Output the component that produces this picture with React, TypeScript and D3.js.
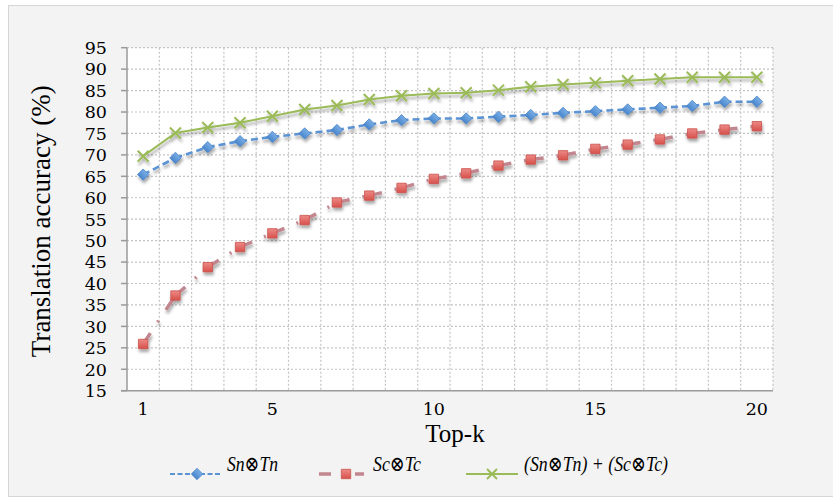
import React from 'react'
import * as d3 from 'd3'

const topK = [1, 2, 3, 4, 5, 6, 7, 8, 9, 10, 11, 12, 13, 14, 15, 16, 17, 18, 19, 20]
const snTn = [65.4, 69.3, 71.8, 73.2, 74.2, 75.0, 75.8, 77.1, 78.1, 78.5, 78.5, 78.9, 79.3, 79.8, 80.2, 80.6, 81.0, 81.4, 82.4, 82.4]
const scTc = [25.9, 37.2, 43.8, 48.5, 51.7, 54.8, 58.9, 60.5, 62.3, 64.4, 65.7, 67.5, 68.9, 69.9, 71.4, 72.4, 73.6, 75.0, 75.9, 76.7]
const combined = [69.7, 75.1, 76.4, 77.5, 79.0, 80.6, 81.5, 82.9, 83.8, 84.3, 84.5, 85.1, 85.9, 86.4, 86.8, 87.3, 87.7, 88.1, 88.1, 88.1]
const yTicks = [15, 20, 25, 30, 35, 40, 45, 50, 55, 60, 65, 70, 75, 80, 85, 90, 95]
const xTickLabels = [1, 5, 10, 15, 20]
const legendLabels = ['Sn\u2297Tn', 'Sc\u2297Tc', '(Sn\u2297Tn) + (Sc\u2297Tc)']

const W = 833
const H = 498
const left = 127, right = 773, top = 47.7, bottom = 390.7
const serif = '"Liberation Serif", "DejaVu Serif", serif'
const tickFont = '"DejaVu Serif", "Liberation Serif", serif'

const BLUE = '#5b93d3'
const RED_LINE = '#c2868e'
const GREEN = '#9bbb59'

export default function App() {
  const x = d3.scaleBand<number>().domain(topK).range([left, right]).padding(0)
  const cx = (k: number) => (x(k) as number) + x.bandwidth() / 2
  const y = d3.scaleLinear().domain([15, 95]).range([bottom, top])
  const seg = d3.line<[number, number]>()

  // each segment drawn on its own so the dash pattern restarts at every point
  const segments = (vals: number[]) =>
    topK.slice(0, -1).map((k, i) => seg([[cx(k), y(vals[i])], [cx(topK[i + 1]), y(vals[i + 1])]]) as string)

  const diamond = d3.symbol(d3.symbolSquare, 64)() as string
  const square = d3.symbol(d3.symbolSquare, 88)() as string

  const xMark = (px: number, py: number, r: number, key: string | number) => (
    <g key={key} stroke={GREEN} strokeWidth={2}>
      <line x1={px - r} y1={py - r} x2={px + r} y2={py + r} />
      <line x1={px - r} y1={py + r} x2={px + r} y2={py - r} />
    </g>
  )

  const gridX = topK.map(k => x(k) as number).concat([right])

  return (
    <svg width={W} height={H} style={{ position: 'absolute', left: 0, top: 0, background: '#fff' }}>
      <defs>
        <filter id="sh" x="-50%" y="-50%" width="200%" height="200%">
          <feDropShadow dx="1" dy="3" stdDeviation="1.6" floodColor="#000" floodOpacity="0.35" />
        </filter>
        <linearGradient id="redg" x1="0" y1="0" x2="0" y2="1">
          <stop offset="0" stopColor="#ec8a85" />
          <stop offset="1" stopColor="#d8504c" />
        </linearGradient>
        <linearGradient id="blueg" x1="0" y1="0" x2="0" y2="1">
          <stop offset="0" stopColor="#79aee6" />
          <stop offset="1" stopColor="#4a86cc" />
        </linearGradient>
      </defs>

      <rect x={8.5} y={5.5} width={W} height={491} fill="#f3f3f3" stroke="#d6d6d6" />
      <rect x={left} y={top} width={right - left} height={bottom - top} fill="#fff" />

      {/* grid */}
      <g stroke="#c4c4c4" strokeWidth={1.2} strokeDasharray="2,2">
        {yTicks.filter(t => t > 15).map(t => (
          <line key={t} x1={left} x2={right} y1={y(t)} y2={y(t)} />
        ))}
        {gridX.slice(1).map((gx, i) => (
          <line key={i} x1={gx} x2={gx} y1={top} y2={bottom} />
        ))}
      </g>

      {/* axes */}
      <g stroke="#9a9a9a" strokeWidth={1.5}>
        <line x1={left} x2={left} y1={top} y2={bottom} />
        <line x1={left - 6} x2={right} y1={bottom} y2={bottom} />
        {yTicks.map(t => (
          <line key={t} x1={left - 6} x2={left} y1={y(t)} y2={y(t)} />
        ))}
      </g>
      <g fontFamily={tickFont} fontSize={17.5} fill="#000">
        {yTicks.map(t => (
          <text key={t} x={107} y={y(t)} dy="0.36em" textAnchor="end">{t}</text>
        ))}
        {xTickLabels.map(k => (
          <text key={k} x={cx(k)} y={415} textAnchor="middle">{k}</text>
        ))}
      </g>
      <text x={455} y={442} textAnchor="middle" fontFamily={serif} fontSize={25}>Top-k</text>
      <text transform={`translate(50,${(top + bottom) / 2 + 2}) rotate(-90)`} textAnchor="middle"
        fontFamily={serif} fontSize={27}>Translation accuracy (%)</text>

      {/* red series */}
      <g filter="url(#sh)">
        {segments(scTc).map((d, i) => (
          <path key={i} d={d} fill="none" stroke={RED_LINE} strokeWidth={3.5} strokeDasharray="13 13 2 13" />
        ))}
        {topK.map((k, i) => (
          <path key={k} d={square} transform={`translate(${cx(k)},${y(scTc[i])})`} fill="url(#redg)" stroke="#c9504c" strokeWidth={0.8} />
        ))}
      </g>

      {/* blue series */}
      <g filter="url(#sh)">
        {segments(snTn).map((d, i) => (
          <path key={i} d={d} fill="none" stroke={BLUE} strokeWidth={2.6} strokeDasharray="7 4" />
        ))}
        {topK.map((k, i) => (
          <path key={k} d={diamond} transform={`translate(${cx(k)},${y(snTn[i])}) rotate(45)`} fill="url(#blueg)" stroke="#4a84c6" strokeWidth={0.8} />
        ))}
      </g>

      {/* green series */}
      <g filter="url(#sh)">
        <path d={d3.line<number>().x((_, i) => cx(topK[i])).y(v => y(v))(combined) as string} fill="none" stroke={GREEN} strokeWidth={2} />
        {topK.map((k, i) => xMark(cx(k), y(combined[i]), 5.5, k))}
      </g>

      {/* legend */}
      <g>
        <line x1={170} x2={222} y1={474} y2={474} stroke={BLUE} strokeWidth={2} strokeDasharray="5 2.5" />
        <path d={diamond} transform="translate(197,474) rotate(45)" fill="url(#blueg)" stroke="#4a84c6" strokeWidth={0.8} />
        <text x={227} y={471} fontFamily={serif} fontStyle="italic" fontSize={21}
          textLength={51} lengthAdjust="spacingAndGlyphs">{legendLabels[0]}</text>

        <line x1={319} x2={364} y1={474} y2={474} stroke={RED_LINE} strokeWidth={3.5} strokeDasharray="12 33" />
        <line x1={355} x2={364} y1={474} y2={474} stroke={RED_LINE} strokeWidth={3.5} />
        <path d={square} transform="translate(346,474)" fill="url(#redg)" stroke="#c9504c" strokeWidth={0.8} />
        <text x={373} y={471} fontFamily={serif} fontStyle="italic" fontSize={21}
          textLength={48} lengthAdjust="spacingAndGlyphs">{legendLabels[1]}</text>

        <line x1={466} x2={518} y1={474} y2={474} stroke={GREEN} strokeWidth={2} />
        {xMark(492, 474, 5, 'lg')}
        <text x={524} y={471} fontFamily={serif} fontStyle="italic" fontSize={21}
          textLength={144} lengthAdjust="spacingAndGlyphs">{legendLabels[2]}</text>
      </g>
    </svg>
  )
}
